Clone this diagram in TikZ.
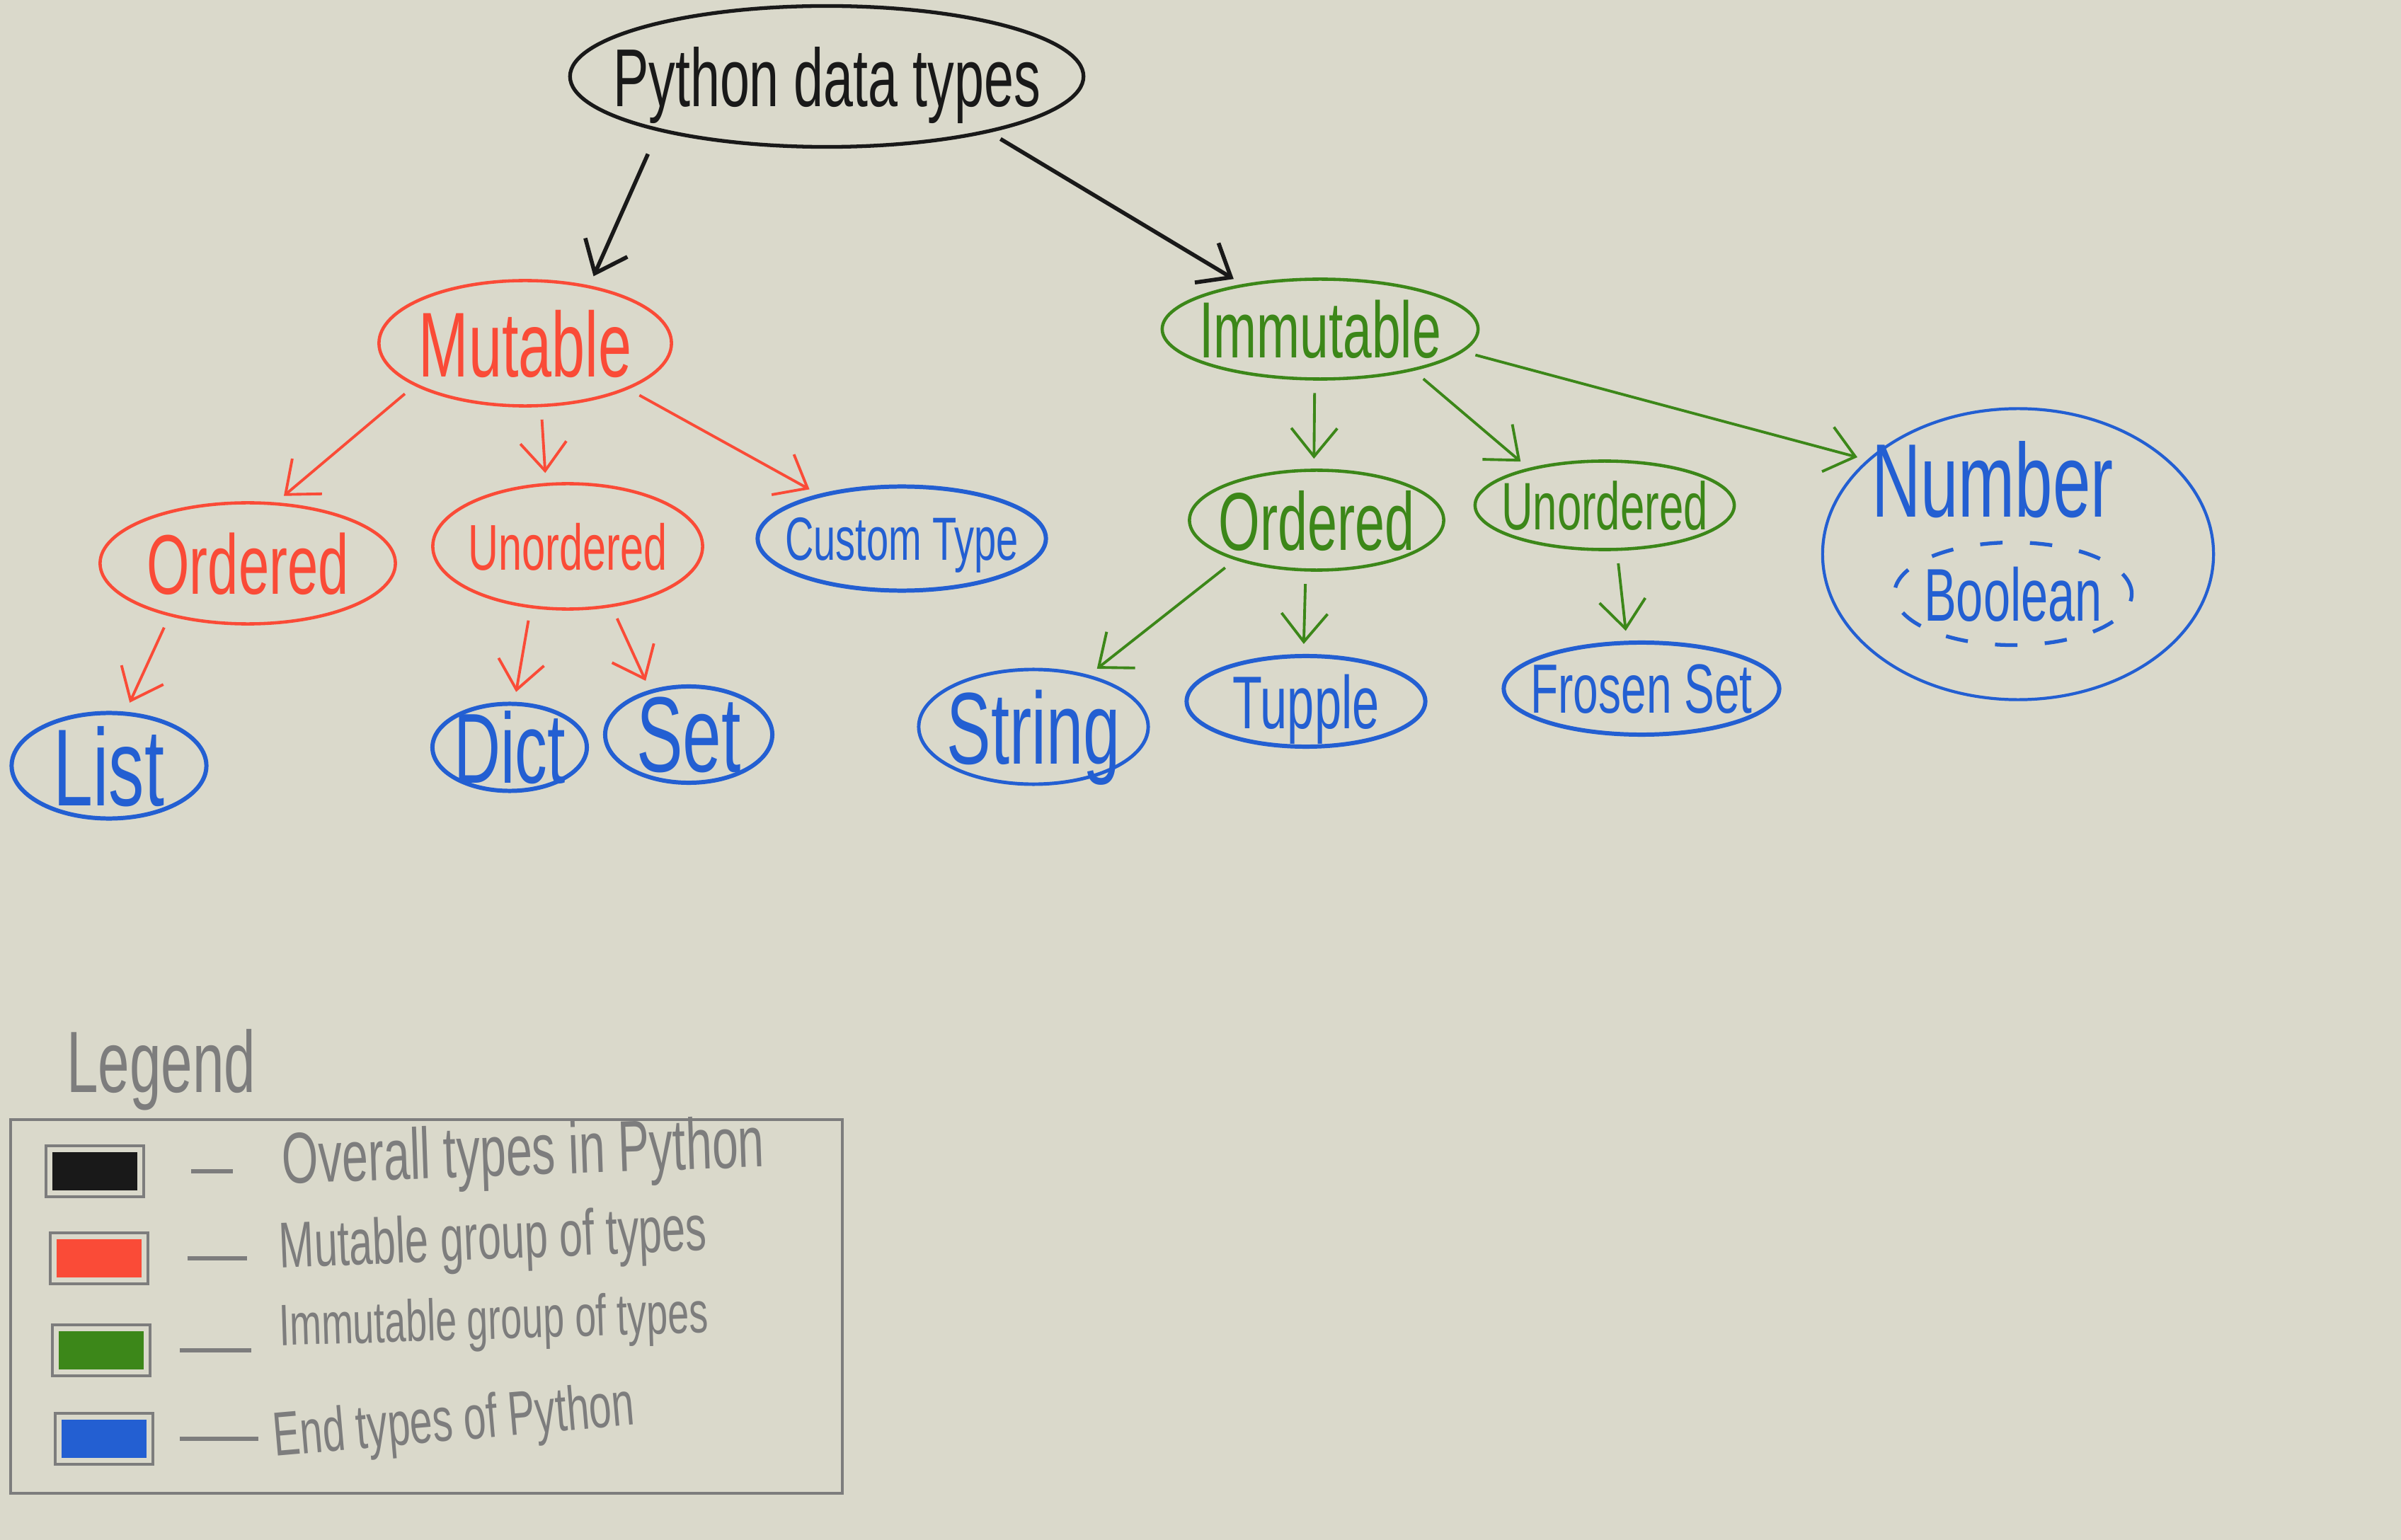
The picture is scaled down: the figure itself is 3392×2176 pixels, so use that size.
\documentclass[tikz,border=0pt]{standalone}
\usepackage{fontspec}
\newfontfamily\handfont[FakeStretch=0.65]{Liberation Sans}
\usetikzlibrary{shapes.geometric,arrows.meta,positioning,calc}

\definecolor{paper}{RGB}{218,217,203}
\definecolor{inkblack}{RGB}{25,25,25}
\definecolor{inkred}{RGB}{250,75,55}
\definecolor{inkgreen}{RGB}{60,135,25}
\definecolor{inkblue}{RGB}{35,95,210}
\definecolor{inkgray}{RGB}{125,125,125}

% label in a zero-size box, so the ellipse keeps its own size
\newcommand{\hw}[1]{\makebox[0pt]{\raisebox{-0.5\height}[0pt][0pt]{#1}}}
\newcommand{\penfont}[1]{\handfont\fontsize{#1}{#1}\selectfont}

\begin{document}
\begin{tikzpicture}[
    x=0.01cm, y=-0.01cm,
    typebox/.style={ellipse, draw, line width=1.3pt, inner sep=0pt},
    topbox/.style={typebox, draw=inkblack, text=inkblack, line width=1.5pt},
    mutbox/.style={typebox, draw=inkred, text=inkred},
    immbox/.style={typebox, draw=inkgreen, text=inkgreen},
    endbox/.style={typebox, draw=inkblue, text=inkblue, line width=1.7pt},
    arrow/.style={-{Straight Barb[length=0.4cm,width=0.65cm]}, line width=1.1pt, shorten <=5pt, shorten >=4pt},
    swatch/.style={rectangle, draw=inkgray, line width=1pt, minimum width=1.38cm, minimum height=0.72cm, inner sep=0pt,
        path picture={\fill[#1] ([shift={(2.5pt,-2.5pt)}]path picture bounding box.north west) rectangle ([shift={(-2.5pt,2.5pt)}]path picture bounding box.south east);}},
    legtext/.style={anchor=west, text=inkgray, inner sep=0pt},
    legdash/.style={draw=inkgray, line width=1.5pt}
]

% Paper
\fill[paper] (0,0) rectangle (3392,2176);

% Root
\node[topbox, minimum width=7.25cm, minimum height=1.99cm, font=\penfont{33}] (types) at (1168,108) {\hw{Python data types}};

% Mutable branch
\node[mutbox, minimum width=4.13cm, minimum height=1.77cm, font=\penfont{37}] (mutable) at (742,485) {\hw{Mutable}};
\node[mutbox, minimum width=4.17cm, minimum height=1.71cm, font=\penfont{34}] (ordm) at (350,796) {\hw{Ordered}};
\node[mutbox, minimum width=3.81cm, minimum height=1.77cm, font=\penfont{26}] (unordm) at (802,772) {\hw{Unordered}};
\node[endbox, minimum width=4.07cm, minimum height=1.47cm, font=\penfont{24.5}] (custom) at (1274,761) {\hw{Custom Type}};
\node[endbox, minimum width=2.75cm, minimum height=1.49cm, font=\penfont{44}] (list) at (154,1082) {\hw{List}};
\node[endbox, minimum width=2.18cm, minimum height=1.23cm, font=\penfont{40}] (dict) at (720,1056) {\hw{Dict}};
\node[endbox, minimum width=2.36cm, minimum height=1.36cm, font=\penfont{43}] (set) at (973,1038) {\hw{Set}};

% Immutable branch
\node[immbox, minimum width=4.46cm, minimum height=1.41cm, font=\penfont{32}] (immutable) at (1865,465) {\hw{Immutable}};
\node[immbox, minimum width=3.59cm, minimum height=1.41cm, font=\penfont{33}] (ordi) at (1860,735) {\hw{Ordered}};
\node[immbox, minimum width=3.66cm, minimum height=1.25cm, font=\penfont{27}] (unordi) at (2267,714) {\hw{Unordered}};
\node[endbox, line width=1.4pt, minimum width=3.24cm, minimum height=1.62cm, font=\penfont{41}] (string) at (1460,1027) {\hw{String}};
\node[endbox, minimum width=3.37cm, minimum height=1.28cm, font=\penfont{30}] (tupple) at (1845,991) {\hw{Tupple}};
\node[endbox, minimum width=3.89cm, minimum height=1.30cm, font=\penfont{28}] (frozen) at (2319,973) {\hw{Frosen Set}};
\node[endbox, line width=1.2pt, minimum width=5.52cm, minimum height=4.11cm] (number) at (2851,783) {};
\node[text=inkblue, font=\penfont{42}, inner sep=0pt] (numlabel) at (2815,678) {Number};
\node[endbox, line width=1.5pt, dash pattern=on 9pt off 11pt, minimum width=3.35cm, minimum height=1.45cm, font=\penfont{30}] (boolean) at (2844,839) {\hw{Boolean}};

% Arrows
\draw[arrow, inkblack, line width=1.6pt, shorten <=10pt] (types.198) -- (mutable.42);
\draw[arrow, inkblack, line width=1.6pt] (types.341) -- (immutable.150);
\draw[arrow, inkred] (mutable.201) -- (ordm.65);
\draw[arrow, inkred] (mutable.284) -- (unordm.109);
\draw[arrow, inkred] (mutable.336) -- (custom.152);
\draw[arrow, inkred] (ordm.214) -- (list.73);
\draw[arrow, inkred] (unordm.239) -- (dict.84);
\draw[arrow, inkred] (unordm.306) -- (set.131);
\draw[arrow, inkgreen] (immutable.264) -- (ordi.93);
\draw[arrow, inkgreen] (immutable.336) -- (unordi.154);
\draw[arrow, inkgreen] (immutable.351) -- (number.148);
\draw[arrow, inkgreen] (ordi.206) -- (string.43);
\draw[arrow, inkgreen] (ordi.258) -- (tupple.93);
\draw[arrow, inkgreen] (unordi.285) -- (frozen.107);

% Legend
\node[text=inkgray, font=\penfont{35}, inner sep=0pt] (legtitle) at (228,1512) {Legend};
\draw[inkgray, line width=1.2pt] (15,1582) rectangle (1190,2110);

\node[swatch=inkblack] (sw1) at (134,1655) {};
\node[swatch=inkred] (sw2) at (140,1778) {};
\node[swatch=inkgreen] (sw3) at (143,1908) {};
\node[swatch=inkblue] (sw4) at (147,2033) {};

\draw[legdash] ([xshift=0.65cm]sw1.east) -- ++(59,0);
\draw[legdash] ([xshift=0.54cm]sw2.east) -- ++(84,0);
\draw[legdash] ([xshift=0.40cm]sw3.east) -- ++(101,0);
\draw[legdash] ([xshift=0.36cm]sw4.east) -- ++(111,0);

\node[legtext, font=\penfont{29}, rotate=2] (leg1) at (398,1646) {Overall types in Python};
\node[legtext, font=\penfont{26}, rotate=2.4] (leg2) at (394,1768) {Mutable group of types};
\node[legtext, font=\penfont{23.5}, rotate=1.8] (leg3) at (394,1880) {Immutable group of types};
\node[legtext, font=\penfont{25}, rotate=5] (leg4) at (386,2035) {End types of Python};

\end{tikzpicture}
\end{document}
